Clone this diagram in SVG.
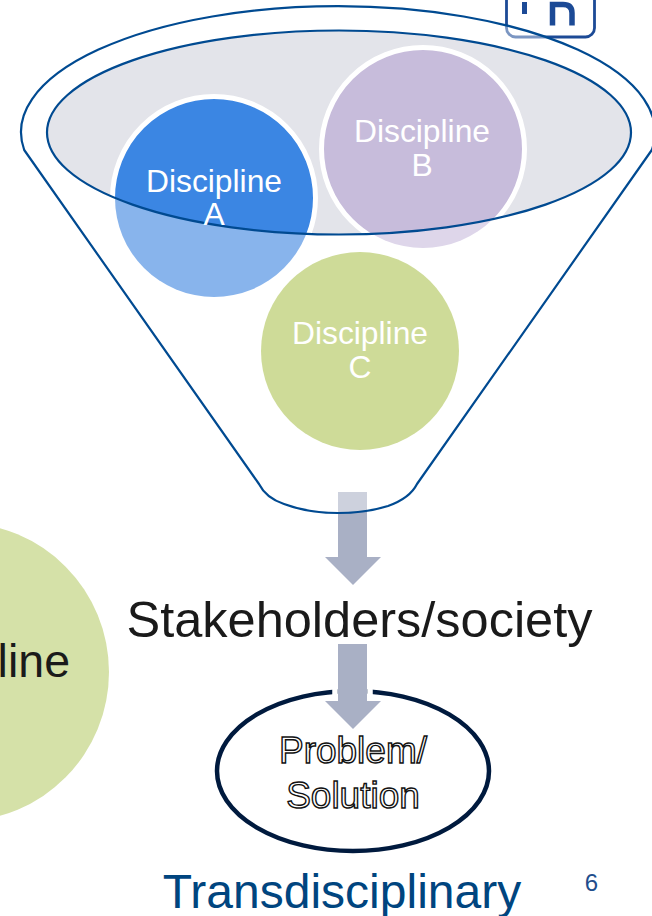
<svg xmlns="http://www.w3.org/2000/svg" width="652" height="916" viewBox="0 0 652 916">
<style>
text{font-family:"Liberation Sans",Arial,sans-serif;text-anchor:middle}
.d{font-size:31.8px;fill:#fff}
.o{font-size:37px;fill:#fff;stroke:#111;stroke-width:1.4px}
.arrow{fill:#a9b0c5}
</style>
<defs>
<clipPath id="inner"><ellipse cx="339" cy="132.500" rx="292" ry="102"/></clipPath>
</defs>
<rect width="652" height="916" fill="#fff"/>
<g id="side-circle">
<ellipse cx="-39" cy="672" rx="148" ry="149" fill="#d5e1a8"/>
<text x="70" y="677" style="text-anchor:end;font-size:46.500px;fill:#1a1a1a">line</text>
</g>
<g id="logo" fill="none" stroke="#1c4a96">
<rect x="506.500" y="-30" width="88" height="67" rx="9" stroke-width="2.800"/>
<path d="M524.500 2V14" stroke-width="5"/>
<path d="M552.500 25.500V4.500H563Q572 4.500 572 13V25.500" stroke-width="5.500"/>
</g>
<g id="connectors">
<path id="arrow-funnel" class="arrow" d="M338 492H367V557H381L353 585L325 557H338Z"/>
</g>
<g id="funnel">
<path d="M24.200 150A317 126 0 1 1 651.800 150L417 484C412 494 402 501 388 506C372 511 354 513 338 513C320 513 300 510 284 504C272 500 264 494 259 484Z" fill="#fff" fill-opacity=".42" stroke="#004a91" stroke-width="2.200" stroke-linejoin="round"/>
<ellipse cx="339" cy="132.500" rx="292" ry="102" fill="#e3e4ea"/>
</g>
<g id="discipline-c">
<circle cx="360" cy="351" r="99" fill="#cedb98"/>
<text class="d" x="360" y="344">Discipline</text>
<text class="d" x="360" y="378">C</text>
</g>
<g id="discipline-a">
<circle cx="214" cy="198" r="99" fill="#88b4ec"/>
<circle cx="214" cy="198" r="101.500" fill="#3b86e3" stroke="#fff" stroke-width="5" clip-path="url(#inner)"/>
</g>
<g id="discipline-b">
<circle cx="423" cy="149" r="99" fill="#ded6ea"/>
<circle cx="423" cy="149" r="101.500" fill="#c7bcdb" stroke="#fff" stroke-width="5" clip-path="url(#inner)"/>
</g>
<ellipse id="funnel-rim" cx="339" cy="132.500" rx="292" ry="102" fill="none" stroke="#004a91" stroke-width="2.200"/>
<g id="discipline-labels">
<text class="d" x="214" y="192">Discipline</text>
<text class="d" x="214" y="225">A</text>
<text class="d" x="422" y="142">Discipline</text>
<text class="d" x="422" y="176">B</text>
</g>
<g id="problem">
<ellipse cx="353" cy="771" rx="136" ry="80" fill="#fff" stroke="#001a3e" stroke-width="4.500"/>
<text class="o" x="353" y="763">Problem/</text>
<text class="o" x="353" y="808">Solution</text>
</g>
<g id="connectors-2">
<path class="arrow" d="M338 644H367V701H381L353 729L325 701H338Z"/>
<path d="M335 660V701M370 660V701" stroke="#fff" stroke-width="5.500" fill="none"/>
</g>
<g id="stakeholders"><text x="359.500" y="637" font-size="50.500" fill="#1a1a1a">Stakeholders/society</text></g>
<g id="title"><text x="342" y="908" font-size="48" fill="#00457f">Transdisciplinary</text></g>
<g id="page-number"><text x="591.500" y="891" font-size="24" fill="#1f4e8c">6</text></g>
</svg>
